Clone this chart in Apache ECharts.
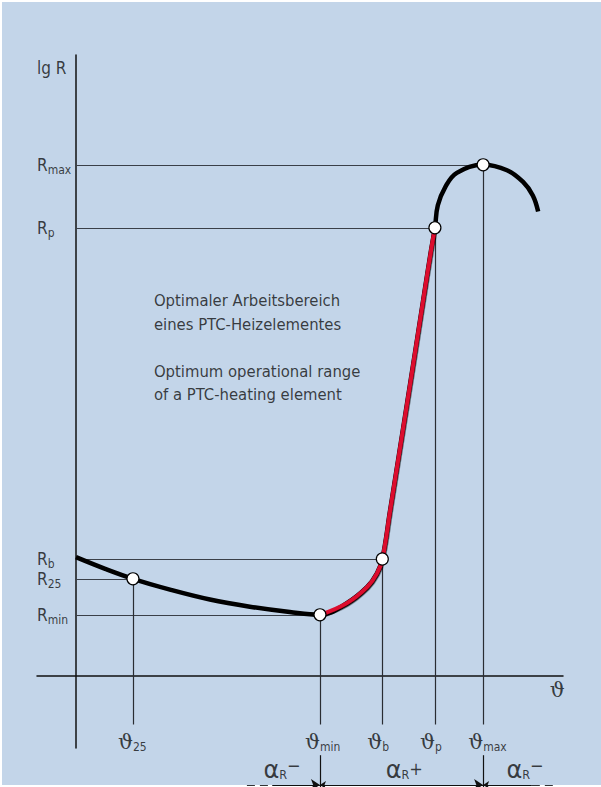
<!DOCTYPE html>
<html><head><meta charset="utf-8">
<script src="https://cdn.jsdelivr.net/npm/echarts@6/dist/echarts.min.js"></script>
<style>
html,body{margin:0;padding:0;background:#fff;width:601px;height:787px;overflow:hidden}
#bg{position:absolute;left:2px;top:2px;width:599px;height:783px;background:#c3d5e9}
#chart{position:absolute;left:0;top:0;width:601px;height:787px}
</style></head><body><div id="bg"></div><div id="chart"></div>
<script>
// Schematic PTC curve: [temperature ϑ, lg R] in arbitrary units
const coldBranch = [[0,13.2],[6.0,11.9],[11.7,10.8],[19.3,9.6],[27.5,8.5],[35.7,7.7],[43.9,7.1],[50.1,6.8]];
const riseBranch = [[50.1,6.8],[55.6,8.1],[59.8,9.9],[61.8,11.4],[62.9,13.0],[64.5,18.4],[68.1,30.7],[71.3,41.8],[72.9,47.3],[73.7,49.8]];
const peakBranch = [[73.7,49.8],[74.3,52.3],[75.8,54.3],[78.2,55.9],[83.6,56.8],[88.5,56.2],[91.8,54.9],[93.8,53.4],[94.9,51.6]];

// characteristic points (ϑ subscript, ϑ, lg R)
const pointNames = ['25','min','b','p','max'];
const pointX = [11.7,50.1,62.9,73.7,83.6];
const pointY = [10.8,6.8,13.0,49.8,56.8];

// resistance levels shown on the lg R axis
const levelNames = ['max','p','b','25','min'];
const levelY = [56.8,49.8,13.0,10.8,6.8];
const levelEndX = [83.6,73.7,62.9,11.7,50.1];

// temperature coefficient ranges (αR sign, from ϑ, to ϑ)
const alphaSigns = ['−','+','−'];
const alphaFrom = [40.3,50.1,83.6];
const alphaTo = [50.1,83.6,93.6];
const alphaDashFrom = [35.1,93.6];
const alphaDashTo = [40.3,98.8];

const noteLines = ['Optimaler Arbeitsbereich','eines PTC-Heizelementes','','Optimum operational range','of a PTC-heating element'];

const NARROW = "'DejaVu Sans Condensed','Liberation Sans',sans-serif";
const INK = '#111111';
const dropEndY = -5.4, thetaLabelY = -7.3, arrowY = -12.1, alphaLabelY = -10.4, extTopY = -8.8, extBottomY = -12.6;

const chart = echarts.init(document.getElementById('chart'), null, {renderer:'svg'});

const curve = coldBranch.concat(riseBranch.slice(1), peakBranch.slice(1));

function seg(x1,y1,x2,y2){ return {coords:[[x1,y1],[x2,y2]]}; }

const guideH = levelY.map((y,i)=>seg(0,y,levelEndX[i],y));
const guideV = pointX.map((x,i)=>seg(x,pointY[i],x,dropEndY));
const ext = [seg(pointX[1],extTopY,pointX[1],extBottomY), seg(pointX[4],extTopY,pointX[4],extBottomY)];

function arrowSeries(i, sym){
  return {type:'lines', coordinateSystem:'cartesian2d', clip:false, z:3,
    symbol:sym, symbolSize:[6,9], silent:true,
    lineStyle:{color:INK, width:1, opacity:1},
    data:[seg(alphaFrom[i],arrowY,alphaTo[i],arrowY)]};
}

const textItems = [];
textItems.push({value:[-8,67.6], label:{formatter:'{t|lg R}', align:'left'}});
levelNames.forEach((n,i)=>textItems.push({value:[-8,levelY[i]], label:{formatter:'{t|R}{s|'+n+'}', align:'left'}}));
pointNames.forEach((n,i)=>textItems.push({value:[pointX[i],thetaLabelY], label:{formatter:'{th|ϑ}{s|'+n+'}', align:'left', offset:[-15,0]}}));
textItems.push({value:[98.8,-1.6], label:{formatter:'{th|ϑ}', align:'center'}});
const alphaX = [42.3,67.4,92.2];
alphaSigns.forEach((s,i)=>textItems.push({value:[alphaX[i],alphaLabelY], label:{formatter:'{a|α}{r|R}'+(s==='+'?'{p|+}':'{m|−}'), align:'center'}}));
textItems.push({value:[16.0,43.0], label:{formatter:noteLines.map(l=>'{n|'+(l||' ')+'}').join('\n'), align:'left', verticalAlign:'top'}});

const option = {
  animation:false,
  grid:{left:37, right:38, top:55, bottom:39, containLabel:false},
  xAxis:{type:'value', min:-8, max:100, axisLine:{show:true, onZero:true, lineStyle:{color:INK, width:1.5}},
    axisTick:{show:false}, axisLabel:{show:false}, splitLine:{show:false}},
  yAxis:{type:'value', min:-8, max:69, axisLine:{show:true, onZero:true, lineStyle:{color:INK, width:1.5}},
    axisTick:{show:false}, axisLabel:{show:false}, splitLine:{show:false}},
  series:[
    {type:'lines', coordinateSystem:'cartesian2d', z:1, silent:true, lineStyle:{color:'#3a3f48', width:1.2, opacity:1}, data:guideH},
    {type:'lines', coordinateSystem:'cartesian2d', z:1, silent:true, lineStyle:{color:'#2a2d33', width:1.2, opacity:1}, data:guideV},
    {type:'lines', coordinateSystem:'cartesian2d', z:1, clip:false, silent:true, lineStyle:{color:INK, width:1.2, opacity:1}, data:ext},
    arrowSeries(0, ['none','arrow']),
    arrowSeries(1, ['arrow','arrow']),
    arrowSeries(2, ['arrow','none']),
    {type:'lines', coordinateSystem:'cartesian2d', clip:false, silent:true, z:3,
      lineStyle:{color:'#333', width:1, type:[8,5], opacity:1},
      data:alphaDashFrom.map((x,i)=>seg(x,arrowY,alphaDashTo[i],arrowY))},
    {type:'line', data:curve, smooth:0.4, symbol:'none', z:4, lineStyle:{color:'#000', width:4.5}},
    {type:'line', data:riseBranch, smooth:0.4, symbol:'none', z:5,
      lineStyle:{color:'#dc0a2d', width:4, shadowColor:'#000', shadowOffsetY:1.5, shadowOffsetX:0.5, shadowBlur:0}},
    {type:'scatter', z:6, symbol:'circle', symbolSize:12, itemStyle:{color:'#fff', borderColor:'#000', borderWidth:1.2, opacity:1},
      data:pointX.map((x,i)=>[x,pointY[i]])},
    {type:'scatter', z:7, clip:false, symbolSize:0, silent:true, data:textItems,
      label:{show:true, position:'inside', color:INK,
        rich:{
          t:{fontFamily:NARROW, fontSize:17, color:INK},
          s:{fontFamily:NARROW, fontSize:12, color:INK, padding:[10,0,0,0]},
          th:{fontFamily:"'DejaVu Serif',serif", fontSize:21, color:INK},
          a:{fontFamily:"'DejaVu Sans',sans-serif", fontSize:24, color:INK},
          r:{fontFamily:NARROW, fontSize:12.5, color:INK, padding:[10,0,0,0]},
          m:{fontFamily:NARROW, fontSize:18, color:INK, padding:[0,0,8,0]},
          p:{fontFamily:NARROW, fontSize:18, color:INK, padding:[0,0,2,0]},
          n:{fontFamily:NARROW, fontSize:16.5, color:INK, lineHeight:23.5}
        }}}
  ]
};
chart.setOption(option);
</script></body></html>
